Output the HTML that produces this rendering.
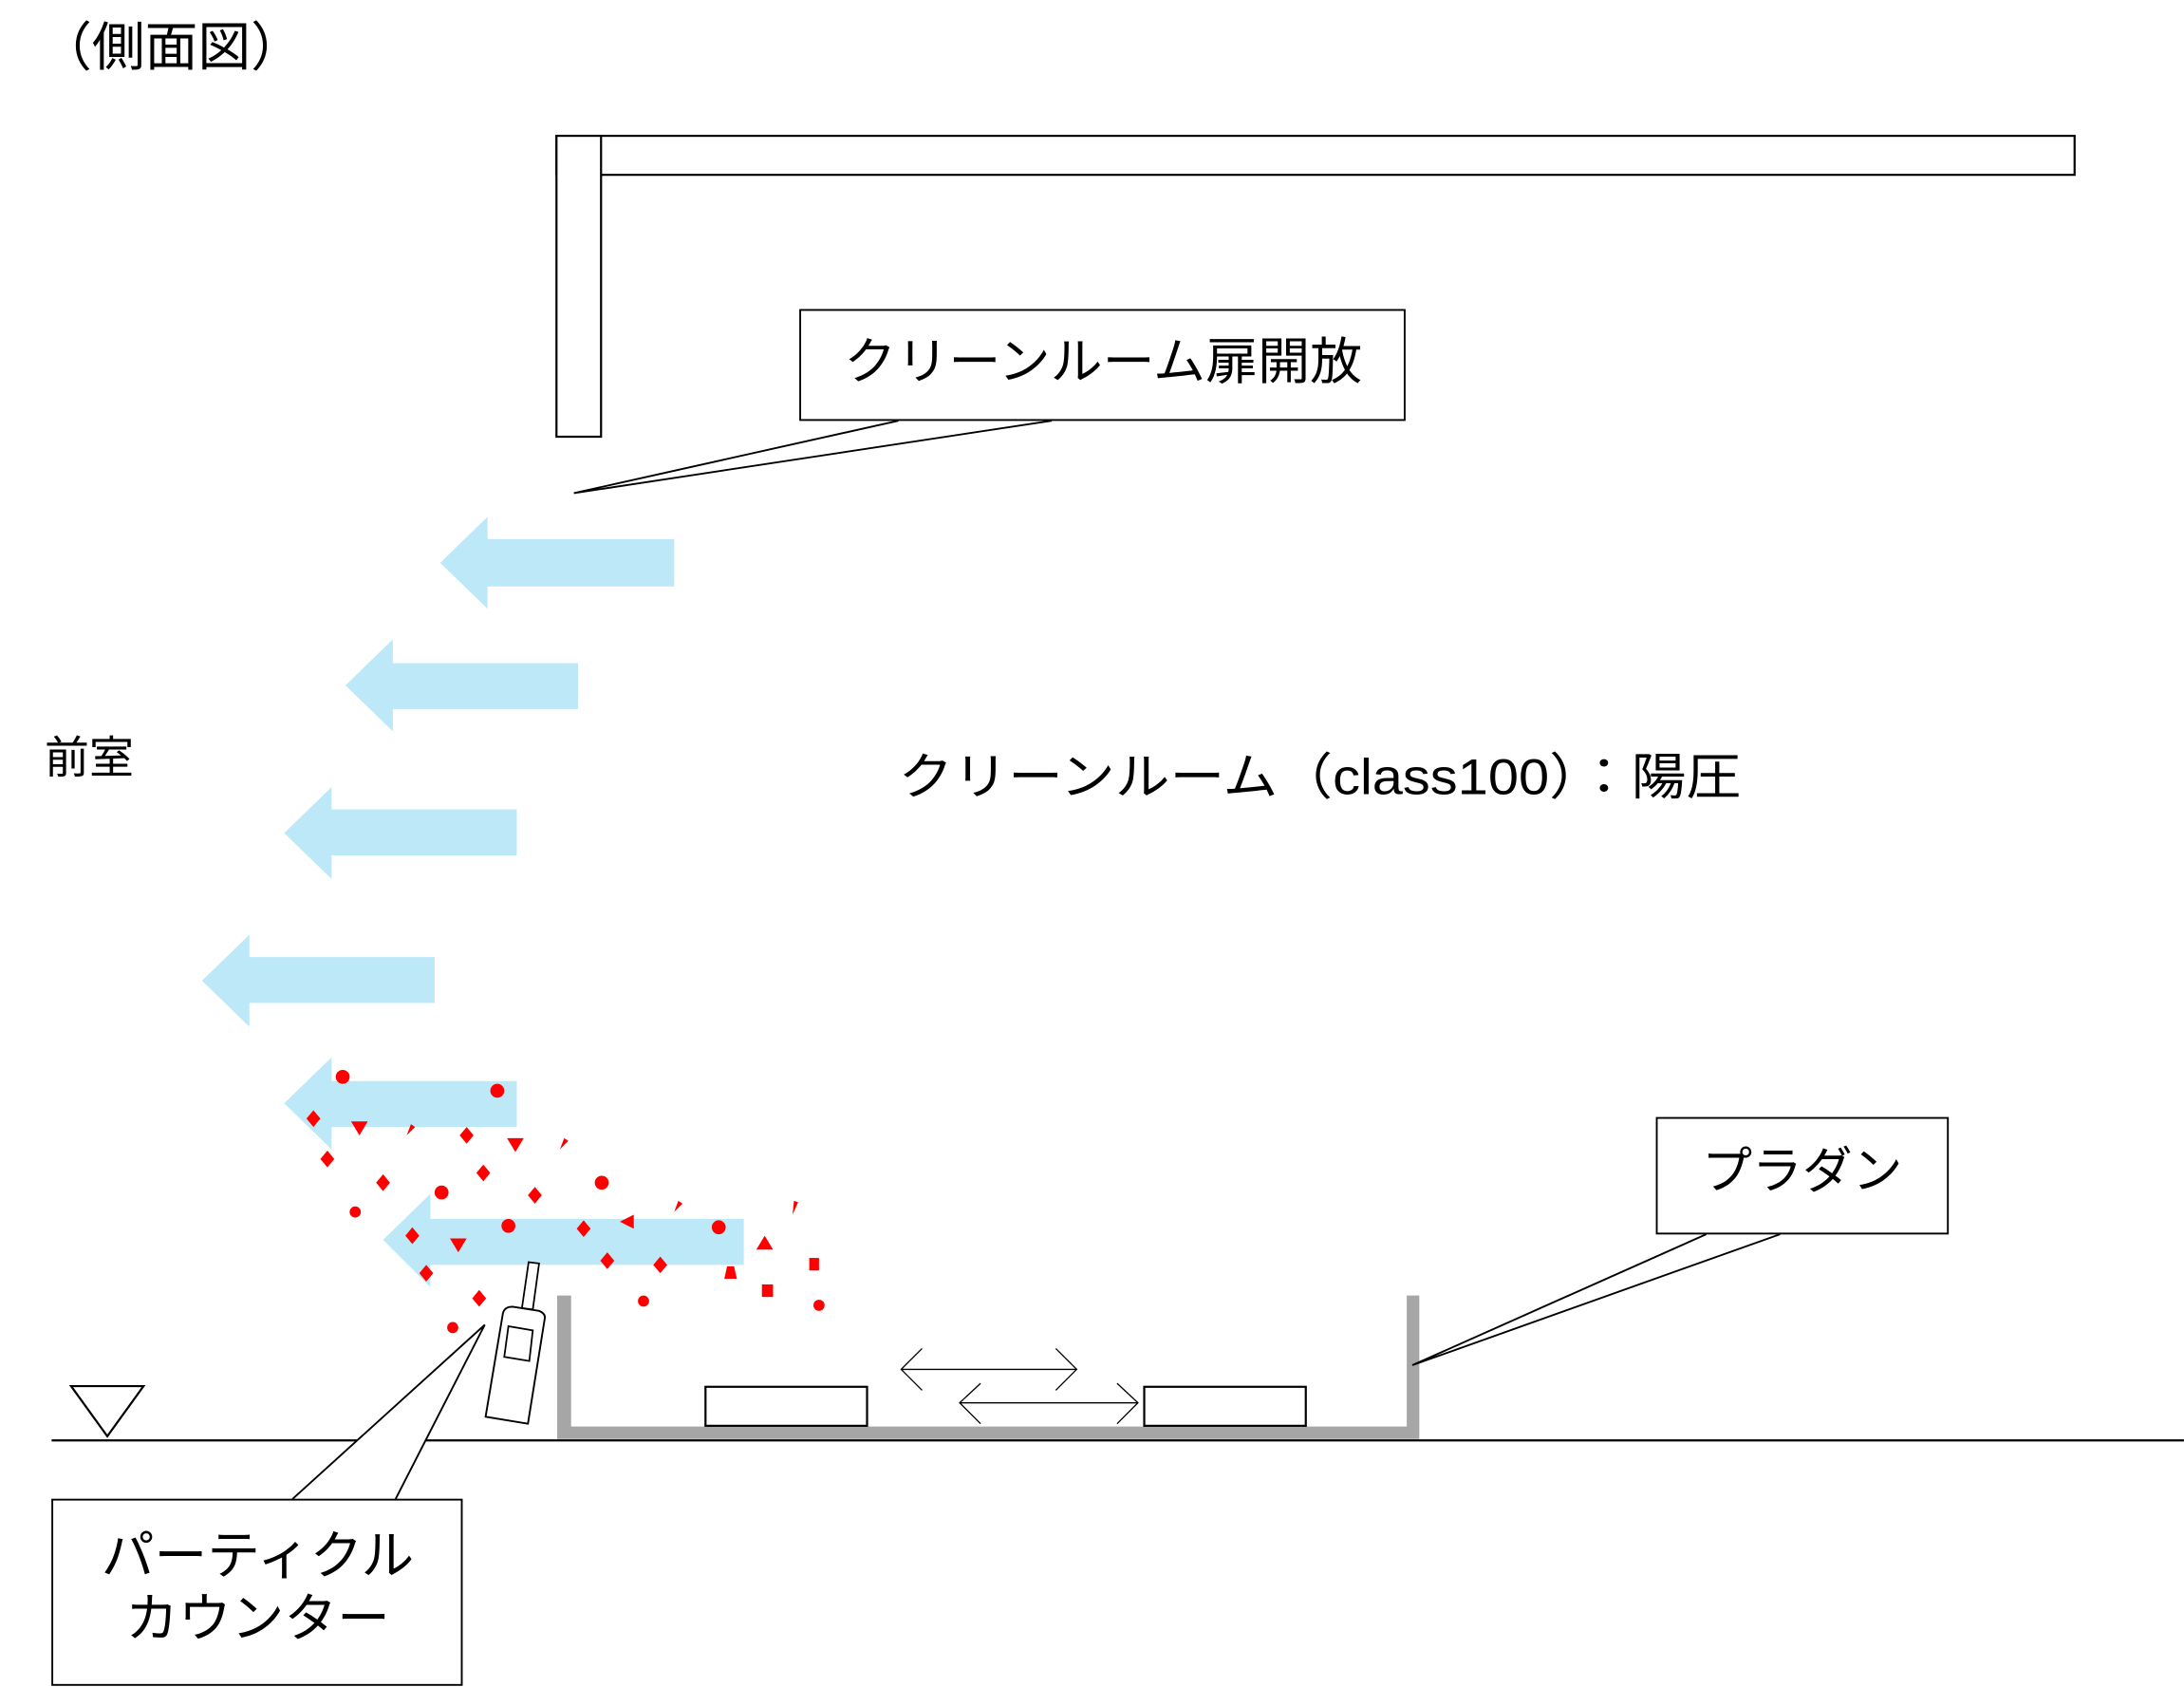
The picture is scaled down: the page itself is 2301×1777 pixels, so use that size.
<!DOCTYPE html>
<html><head><meta charset="utf-8"><style>
html,body{margin:0;padding:0;background:#fff;}
svg{display:block}
text{font-family:"Liberation Sans","Noto Sans CJK JP",sans-serif;fill:#000}
</style></head><body>
<svg width="2301" height="1777" viewBox="0 0 1568 1211" xmlns="http://www.w3.org/2000/svg">
<rect width="1568" height="1211" fill="#fff"/>
<text x="28" y="47" font-size="38">（側面図）</text>
<!-- ceiling and wall -->
<rect x="399.5" y="97.5" width="1090" height="28" fill="none" stroke="#000" stroke-width="1.5"/>
<rect x="399.5" y="97.5" width="32" height="216" fill="#fff" stroke="#000" stroke-width="1.5"/>
<!-- callout door -->
<path d="M645,302 L412,354 L755,302" fill="#fff" stroke="#000" stroke-width="1.3"/>
<rect x="574.5" y="222.5" width="434" height="79" fill="#fff" stroke="#000" stroke-width="1.3"/>
<text x="606" y="272" font-size="36" textLength="372" lengthAdjust="spacingAndGlyphs">クリーンルーム扉開放</text>
<!-- arrows -->
<g fill="#bde8f8">
<path d="M316,404 L350,371 L350,387 L484,387 L484,421 L350,421 L350,437Z"/>
<path d="M248,492 L282,459 L282,476 L415,476 L415,509 L282,509 L282,525Z"/>
<path d="M204,598 L238,565 L238,581 L371,581 L371,614 L238,614 L238,631Z"/>
<path d="M145,704 L179,671 L179,687 L312,687 L312,720 L179,720 L179,737Z"/>
<path d="M204,792 L238,759 L238,776 L371,776 L371,809 L238,809 L238,825Z"/>
<path d="M275,890 L309,857 L309,875 L534,875 L534,908 L309,908 L309,924Z"/>
</g>
<text x="32" y="555" font-size="32">前室</text>
<text x="645" y="570" font-size="36" textLength="605" lengthAdjust="spacingAndGlyphs">クリーンルーム（class100）：陽圧</text>
<!-- particles -->
<g fill="#f00">
<circle cx="246" cy="773" r="5"/><circle cx="357" cy="783" r="5"/>
<path d="M220,803l5,-6l5,6l-5,6z"/><path d="M252,805h12l-6,10z"/><path d="M292,815l3,-8l3,2z"/>
<path d="M330,815l5,-6l5,6l-5,6z"/><path d="M364,817h12l-6,10z"/><path d="M402,825l3,-8l3,2z"/>
<path d="M230,832l5,-6l5,6l-5,6z"/><path d="M270,849l5,-6l5,6l-5,6z"/><circle cx="317" cy="856" r="5"/>
<path d="M342,842l5,-6l5,6l-5,6z"/><path d="M379,858l5,-6l5,6l-5,6z"/><circle cx="432" cy="849" r="5"/>
<circle cx="255" cy="870" r="4"/><path d="M291,887l5,-6l5,6l-5,6z"/><path d="M323,889h12l-6,10z"/>
<circle cx="365" cy="880" r="5"/><path d="M414,882l5,-6l5,6l-5,6z"/><path d="M445,877l10,-5v10z"/>
<path d="M484,870l3,-8l3,2z"/><circle cx="516" cy="881" r="5"/><path d="M569,872l1,-10l3,1z"/>
<path d="M301,914l5,-6l5,6l-5,6z"/><path d="M431,905l5,-6l5,6l-5,6z"/><path d="M469,908l5,-6l5,6l-5,6z"/>
<path d="M520,918l2,-9h5l2,9z"/><path d="M543,897l6,-10l6,10z"/><rect x="547" y="922" width="8" height="9"/>
<rect x="581" y="903" width="7" height="9"/><path d="M339,932l5,-6l5,6l-5,6z"/>
<circle cx="325" cy="953" r="4"/><circle cx="462" cy="934" r="4"/><circle cx="588" cy="937" r="4"/>
</g>
<!-- floor -->
<line x1="37" y1="1034" x2="1568" y2="1034" stroke="#000" stroke-width="1.5"/>
<path d="M51,995 L103,995 L77,1031Z" fill="#fff" stroke="#000" stroke-width="1.5"/>
<!-- plenum -->
<path d="M400,930 V1033 H1019 V930 H1010 V1024 H410 V930Z" fill="#a6a6a6"/>
<rect x="506.5" y="995.5" width="116" height="28" fill="#fff" stroke="#000" stroke-width="1.5"/>
<rect x="821.5" y="995.5" width="116" height="28" fill="#fff" stroke="#000" stroke-width="1.5"/>
<g stroke="#000" stroke-width="0.9" fill="none">
<path d="M647,983 H773 M662,968 L647,983 L662,998 M758,968 L773,983 L758,998"/>
<path d="M689,1007 H817 M704,993 L689,1007 L704,1022 M802,993 L817,1007 L802,1022"/>
</g>
<!-- pradan callout -->
<path d="M1225,886 L1014,980 L1278,886" fill="#fff" stroke="#000" stroke-width="1.3"/>
<rect x="1189.5" y="802.5" width="209" height="83" fill="#fff" stroke="#000" stroke-width="1.3"/>
<text x="1294" y="853" font-size="36" text-anchor="middle">プラダン</text>
<!-- particle counter -->
<path d="M379.5,906 L387,907 L382.5,940 L374.7,939Z" fill="#fff" stroke="#000" stroke-width="1.2"/>
<path d="M368,938 L387,941 Q392,943 391,947 L379,1022 L348.6,1017 L361,943 Q362,938 368,938Z" fill="#fff" stroke="#000" stroke-width="1.3"/>
<path d="M365,952 L382.5,955 L380,977 L362,974Z" fill="#fff" stroke="#000" stroke-width="1.2"/>
<!-- counter callout -->
<path d="M210,1076 L348,951 L284,1076" fill="#fff" stroke="#000" stroke-width="1.3"/>
<rect x="37.5" y="1076.5" width="294" height="133" fill="#fff" stroke="#000" stroke-width="1.3"/>
<text x="185" y="1130" font-size="38" text-anchor="middle">パーティクル</text>
<text x="185" y="1175" font-size="38" text-anchor="middle">カウンター</text>
</svg>
</body></html>
